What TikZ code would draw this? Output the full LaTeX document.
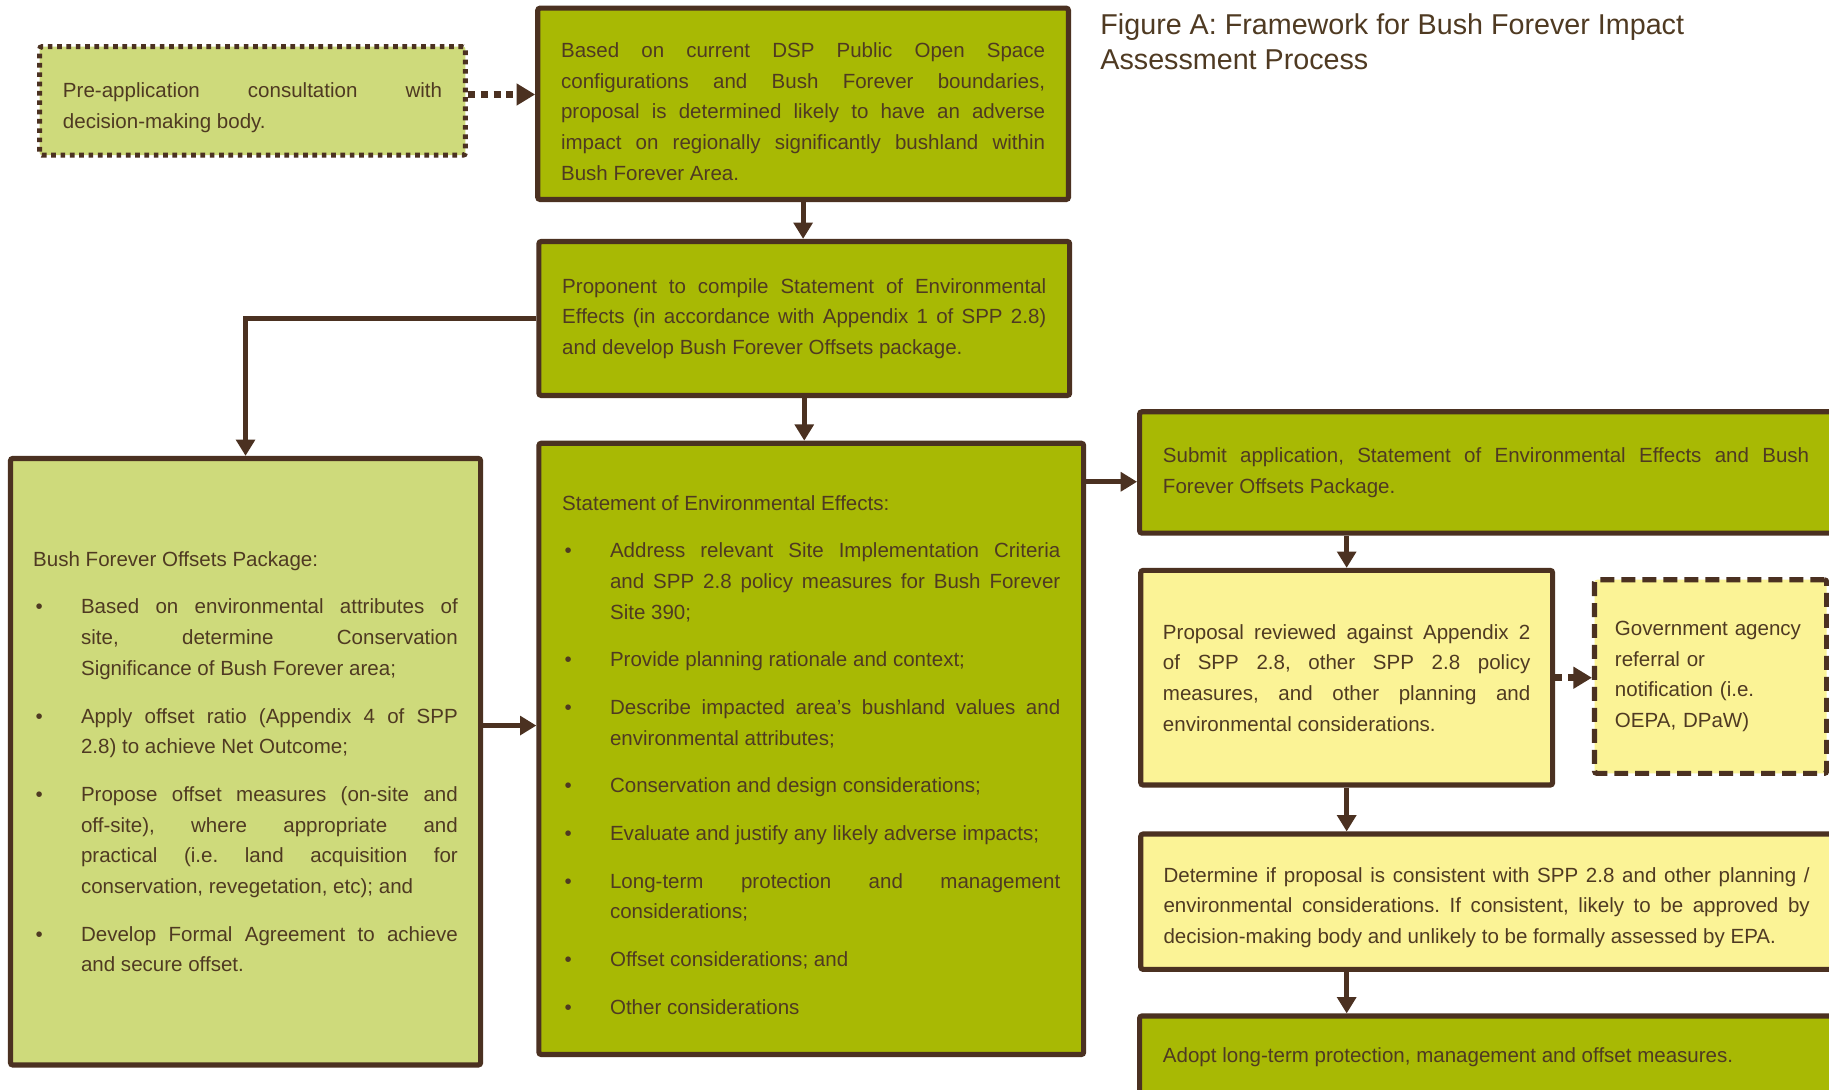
\documentclass[tikz,border=0pt]{standalone}
\usepackage{fontspec}
\setmainfont{Liberation Sans}
\usetikzlibrary{arrows.meta}
\definecolor{dkgreen}{HTML}{A8B904}
\definecolor{ltgreen}{HTML}{CEDA7B}
\definecolor{lyellow}{HTML}{FBF396}
\definecolor{bline}{HTML}{4B3121}
\definecolor{btext}{HTML}{4F3A22}
\tolerance=10000 \hbadness=10000 \hyphenpenalty=10000 \exhyphenpenalty=10000
\frenchspacing
\newcommand\bitem[1]{\par\vspace{7.3pt}\hangindent=20.5pt\hangafter=1\noindent\makebox[20.5pt][l]{\hspace{1pt}\textbullet}#1\par}
\begin{document}
\begin{tikzpicture}[x=0.5pt,y=-0.5pt,
 box/.style={draw=bline, line width=2.2pt, rounded corners=1pt, inner sep=0pt, text=btext, align=justify, font=\fontsize{8.8}{13.15}\selectfont},
 darkbox/.style={box, fill=dkgreen},
 lightbox/.style={box, fill=ltgreen},
 yellowbox/.style={box, fill=lyellow},
 arr/.style={draw=bline, line width=2.2pt, -{Triangle[length=7pt,width=8pt]}},
 dotarr/.style={draw=bline, line width=3pt, dash pattern=on 3pt off 2.5pt, -{Triangle[length=8pt,width=9pt]}}
]
\fill[white] (0,0) rectangle (1568,934);
\path[use as bounding box, clip] (0,0) rectangle (1568,934);

\node[lightbox, dash pattern=on 2pt off 2pt, minimum width=182.5pt, minimum height=46.5pt, text width=162.5pt] (pre) at (216.5,86.5)
 {\rule{0pt}{12pt}Pre-application consultation with\linebreak decision-making body.};

\node[darkbox, minimum width=227.5pt, minimum height=82pt, text width=207.5pt] (based) at (688.5,89)
 {\rule{0pt}{13pt}Based on current DSP Public Open Space\linebreak configurations and Bush Forever boundaries,\linebreak proposal is determined likely to have an adverse\linebreak impact on regionally significantly bushland within\linebreak Bush Forever Area.};

\node[darkbox, minimum width=227.5pt, minimum height=66pt, text width=207.5pt] (proponent) at (689.5,273)
 {Proponent to compile Statement of Environmental\linebreak Effects (in accordance with Appendix 1 of SPP 2.8)\linebreak and develop Bush Forever Offsets package.};

\node[lightbox, minimum width=201.5pt, minimum height=260pt, text width=182pt] (offsets) at (210.5,653)
 {Bush Forever Offsets Package:
 \bitem{Based on environmental attributes of\linebreak site, determine Conservation\linebreak Significance of Bush Forever area;}
 \bitem{Apply offset ratio (Appendix 4 of SPP\linebreak 2.8) to achieve Net Outcome;}
 \bitem{Propose offset measures (on-site and\linebreak off-site), where appropriate and\linebreak practical (i.e. land acquisition for\linebreak conservation, revegetation, etc); and}
 \bitem{Develop Formal Agreement to achieve\linebreak and secure offset.}};

\node[darkbox, minimum width=233.5pt, minimum height=262pt, text width=213.5pt] (statement) at (695.5,642)
 {\rule{0pt}{11.5pt}Statement of Environmental Effects:
 \bitem{Address relevant Site Implementation Criteria\linebreak and SPP 2.8 policy measures for Bush Forever\linebreak Site 390;}
 \bitem{Provide planning rationale and context;}
 \bitem{Describe impacted area’s bushland values and\linebreak environmental attributes;}
 \bitem{Conservation and design considerations;}
 \bitem{Evaluate and justify any likely adverse impacts;}
 \bitem{Long-term protection and management\linebreak considerations;}
 \bitem{Offset considerations; and}
 \bitem{Other considerations}};

\node[darkbox, minimum width=297pt, minimum height=52pt, text width=277pt] (submit) at (1274,405)
 {Submit application, Statement of Environmental Effects and Bush\linebreak Forever Offsets Package.};

\node[yellowbox, minimum width=176.5pt, minimum height=92pt, text width=157.5pt] (reviewed) at (1154.5,581)
 {Proposal reviewed against Appendix 2\linebreak of SPP 2.8, other SPP 2.8 policy\linebreak measures, and other planning and\linebreak environmental considerations.};

\node[yellowbox, dash pattern=on 6pt off 3pt, minimum width=99.5pt, minimum height=83pt, text width=82pt, align=left] (gov) at (1466.5,580)
 {Government agency\\ referral or\\ notification (i.e.\\ OEPA, DPaW)};

\node[yellowbox, minimum width=296.5pt, minimum height=58pt, text width=277pt] (determine) at (1274.5,773)
 {\rule{0pt}{11.5pt}Determine if proposal is consistent with SPP 2.8 and other planning /\linebreak environmental considerations. If consistent, likely to be approved by\linebreak decision-making body and unlikely to be formally assessed by EPA.};

\node[darkbox, minimum width=297pt, minimum height=35pt, text width=277pt] (adopt) at (1274,906)
 {Adopt long-term protection, management and offset measures.};

\node[anchor=north west, inner sep=0pt, text=btext, font=\fontsize{12.3}{15}\selectfont, align=left] (title) at (943,11)
 {Figure A: Framework for Bush Forever Impact\\Assessment Process};

\coordinate (pa) at ([yshift=2.75pt]pre.east);
\draw[dotarr] (pa) -- (pa -| based.west);
\draw[arr] (based.south) -- (based.south |- proponent.north);
\draw[arr] (proponent.west) -| (offsets.north);
\draw[arr] (proponent.south) -- (proponent.south |- statement.north);
\coordinate (oa) at ([yshift=15.5pt]offsets.east);
\draw[arr] (oa) -- (oa -| statement.west);
\coordinate (sa) at ([yshift=-4pt]submit.west);
\draw[arr] (sa -| statement.east) -- (sa);
\draw[arr] (reviewed.north |- submit.south) -- (reviewed.north);
\draw[dotarr] (reviewed.east) -- (reviewed.east -| gov.west);
\draw[arr] (reviewed.south) -- (reviewed.south |- determine.north);
\draw[arr] (reviewed.south |- determine.south) -- (reviewed.south |- adopt.north);
\end{tikzpicture}
\end{document}
